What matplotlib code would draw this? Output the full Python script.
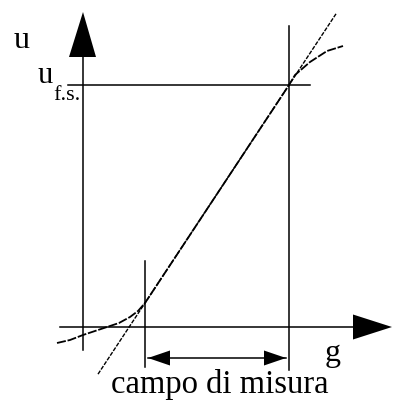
#!/usr/bin/env python3
# -*- coding: utf-8 -*-

# Import packages
import matplotlib.pyplot as plt

# Coordinates: origin where the g and u axes cross, 1 unit = 1 pixel
g_start = 62      # lower end of the measuring range
g_fs = 206        # full-scale input
u_fs = 242        # full-scale output
u_start = 24      # output at the lower end of the range

# real characteristic (non-linear at both ends)
curve_g = [-26, -13, 0, 12, 24, 36, 47, 55, 62, 206, 212, 227, 244, 260]
curve_u = [-16, -13, -8, -4, 0, 4, 10, 16, 24, 242, 252, 265, 276, 281]

# ideal straight line through the two range points
line_g = [15, 253]

# text
label_u = "u"
label_ufs = "u"
label_ufs_sub = "f.s."
label_g = "g"
label_range = "campo di misura"


def line_value(g):
    slope = (u_fs - u_start) / (g_fs - g_start)
    return u_start + slope * (g - g_start)


fig = plt.figure(figsize=(3.94, 4.01), dpi=100)
ax = fig.add_axes([0, 0, 1, 1])
ax.set_xlim(-83, 311)
ax.set_ylim(-74, 327)
ax.axis("off")

k = "black"
lw = 1.1

# axes with filled arrowheads
ax.plot([-23, 270], [0, 0], color=k, lw=lw)
ax.fill([270, 309, 270], [-12.5, 0, 12.5], color=k, lw=0)
ax.plot([0, 0], [-23, 270], color=k, lw=lw)
ax.fill([-14, 0, 13], [270, 315, 270], color=k, lw=0)

# range limits and full-scale line
ax.plot([g_start, g_start], [-40, 66], color=k, lw=lw)
ax.plot([g_fs, g_fs], [-43, 301], color=k, lw=lw)
ax.plot([-15, 227], [u_fs, u_fs], color=k, lw=lw)

# ideal line and real characteristic
ax.plot(line_g, [line_value(g) for g in line_g], color=k, lw=1.0,
        linestyle=(0, (3, 1)))
ax.plot(curve_g, curve_u, color=k, lw=1.3, linestyle=(0, (5, 1)))

# double arrow for the measuring range
ya = -31
ax.plot([g_start + 3, g_fs - 3], [ya, ya], color=k, lw=lw)
ax.fill([g_start + 3, g_start + 25, g_start + 25], [ya, ya + 7.5, ya - 7.5],
        color=k, lw=0)
ax.fill([g_fs - 3, g_fs - 25, g_fs - 25], [ya, ya + 7.5, ya - 7.5],
        color=k, lw=0)

font = {"family": "Liberation Serif", "color": k}
ax.text(-61, 279, label_u, fontsize=23, ha="center", va="baseline", **font)
ax.text(-45, 244, label_ufs, fontsize=22, ha="left", va="baseline", **font)
ax.text(-30, 227, label_ufs_sub, fontsize=16, ha="left", va="baseline", **font)
ax.text(250, -34, label_g, fontsize=23, ha="center", va="baseline", **font)
ax.text(137, -66, label_range, fontsize=23.5, ha="center", va="baseline",
        **font)

fig.savefig("out.png", dpi=100)
plt.close(fig)
